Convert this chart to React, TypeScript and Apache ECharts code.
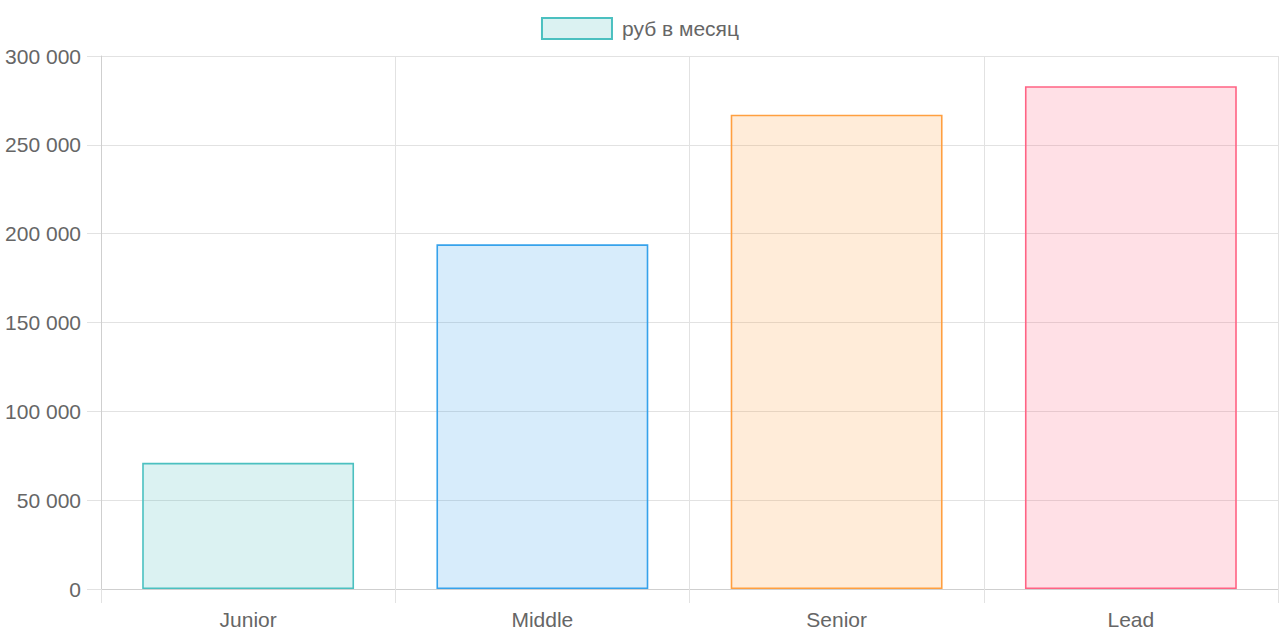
import React, { useEffect, useRef } from "react";
import * as echarts from "echarts";

const categories = ["Junior", "Middle", "Senior", "Lead"];
const values = [71000, 194000, 267000, 283000];
const seriesName = "руб в месяц";
const fillColors = [
  "rgba(75, 192, 192, 0.2)",
  "rgba(54, 162, 235, 0.2)",
  "rgba(255, 159, 64, 0.2)",
  "rgba(255, 99, 132, 0.2)",
];
const borderColors = [
  "rgb(75, 192, 192)",
  "rgb(54, 162, 235)",
  "rgb(255, 159, 64)",
  "rgb(255, 99, 132)",
];
const yMin = 0;
const yMax = 300000;
const yStep = 50000;

const FONT = "'Liberation Sans', Helvetica, Arial, sans-serif";
const TEXT = "#666666";
const GRID = "#e2e2e2";
const AXIS = "#cfcfcf";

const fmt = (v: number) => String(v).replace(/\B(?=(\d{3})+(?!\d))/g, " ");

export default function App() {
  const ref = useRef<HTMLDivElement>(null);
  useEffect(() => {
    if (!ref.current) return;
    const chart = echarts.init(ref.current, undefined, { renderer: "svg" });
    chart.setOption({
      animation: false,
      textStyle: { fontFamily: FONT },
      legend: {
        top: 12,
        left: "center",
        itemWidth: 70,
        itemHeight: 21,
        itemGap: 10,
        icon: "rect",
        textStyle: { fontSize: 21, color: TEXT, fontFamily: FONT, padding: [0, 0, 0, 5] },
        data: [seriesName],
      },
      grid: { left: 101, right: 2, top: 56, bottom: 50, containLabel: false },
      xAxis: {
        type: "category",
        data: categories,
        boundaryGap: true,
        axisLine: { show: true, lineStyle: { color: AXIS, width: 1 } },
        axisTick: { show: true, length: 14, lineStyle: { color: GRID } },
        axisLabel: { fontSize: 21, color: TEXT, margin: 20, fontFamily: FONT },
        splitLine: { show: true, lineStyle: { color: GRID, width: 1 } },
      },
      yAxis: {
        type: "value",
        min: yMin,
        max: yMax,
        interval: yStep,
        axisLine: { show: true, lineStyle: { color: AXIS, width: 1 } },
        axisTick: { show: true, length: 14, lineStyle: { color: GRID } },
        axisLabel: {
          fontSize: 21,
          color: TEXT,
          margin: 20,
          fontFamily: FONT,
          formatter: (v: number) => fmt(v),
        },
        splitLine: { show: true, lineStyle: { color: GRID, width: 1 } },
      },
      series: [
        {
          name: seriesName,
          type: "bar",
          barCategoryGap: "28%",
          itemStyle: {
            color: fillColors[0],
            borderColor: borderColors[0],
            borderWidth: 1.6,
          },
          data: values.map((v, i) => ({
            value: v,
            itemStyle: {
              color: fillColors[i],
              borderColor: borderColors[i],
              borderWidth: 1.6,
            },
          })),
        },
      ],
    });
    return () => chart.dispose();
  }, []);
  return (
    <div
      ref={ref}
      style={{ position: "fixed", left: 0, top: 0, width: 1280, height: 639, background: "#fff" }}
    />
  );
}
